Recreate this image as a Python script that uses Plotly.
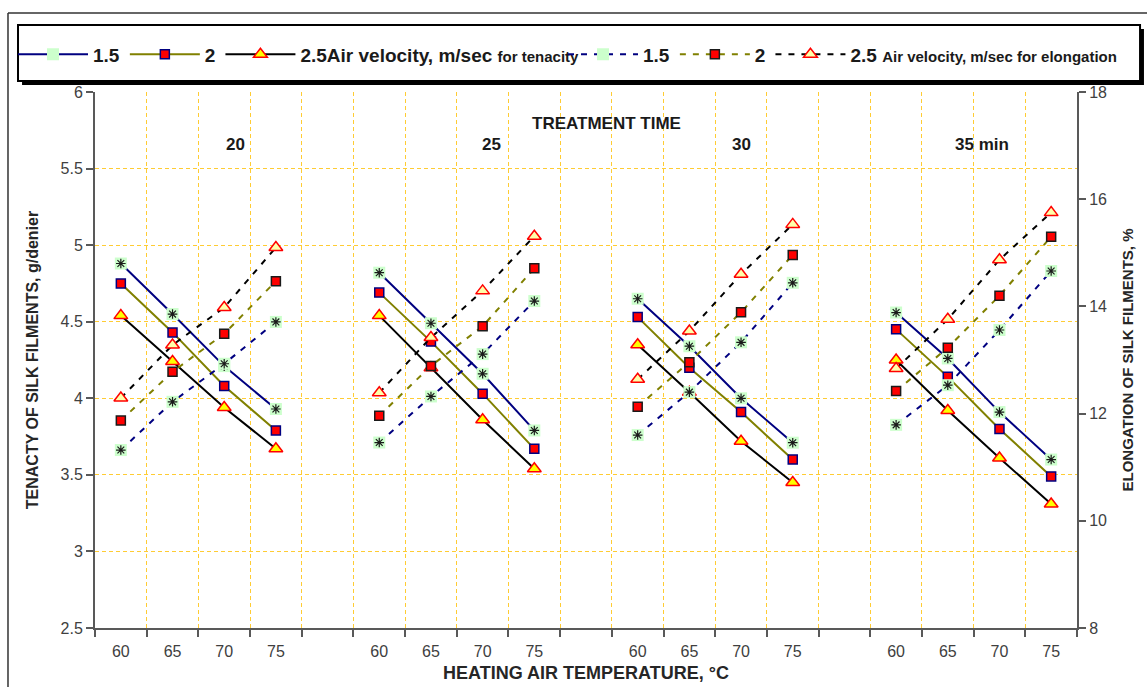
import plotly.graph_objects as go

# ---- data -------------------------------------------------------------
temps = ["60", "65", "70", "75"]                 # heating air temperature, °C
treatment_times = ["20", "25", "30", "35 min"]   # treatment time groups
velocities = ["1.5", "2", "2.5"]                 # air velocity, m/sec

# Tenacity, g/denier (4 temperatures per treatment time: 20 | 25 | 30 | 35 min)
tenacity_v15 = [4.88, 4.55, 4.21, 3.93,  4.82, 4.49, 4.16, 3.79,  4.65, 4.34, 4.00, 3.71,  4.56, 4.26, 3.91, 3.60]
tenacity_v20 = [4.75, 4.43, 4.08, 3.79,  4.69, 4.37, 4.03, 3.67,  4.53, 4.20, 3.91, 3.60,  4.45, 4.14, 3.80, 3.49]
tenacity_v25 = [4.54, 4.24, 3.94, 3.67,  4.54, 4.20, 3.86, 3.54,  4.35, 4.04, 3.72, 3.45,  4.25, 3.92, 3.61, 3.31]

# Elongation, %
elong_v15 = [11.32, 12.22, 12.93, 13.71,  11.46, 12.32, 13.11, 14.10,  11.60, 12.40, 13.33, 14.44,  11.79, 12.53, 13.56, 14.66]
elong_v20 = [11.87, 12.78, 13.49, 14.47,  11.96, 12.89, 13.63, 14.71,  12.13, 12.96, 13.89, 14.96,  12.42, 13.23, 14.20, 15.30]
elong_v25 = [12.29, 13.28, 13.98, 15.10,  12.39, 13.42, 14.29, 15.31,  12.64, 13.54, 14.60, 15.53,  12.84, 13.76, 14.87, 15.75]

# ---- category layout: 4 temperatures per group, one empty slot between groups
labels = []
for g in range(len(treatment_times)):
    labels += temps
    if g < len(treatment_times) - 1:
        labels.append("")
x_pos = list(range(len(labels)))


def spread(vals):
    it = iter(vals)
    return [next(it) if lab else None for lab in labels]


FONT = "Liberation Sans"
GRID = "#FFCC33"
AXIS = "#595959"

line_colors = {"1.5": "#000080", "2": "#808000", "2.5": "#000000"}

fig = go.Figure()


def add_series(vals, vel, name, yaxis, dashed, legend):
    y = spread(vals)
    line = dict(color=line_colors[vel], width=2)
    if dashed:
        line["dash"] = "6px,7px"
    if vel == "1.5":
        marker = dict(symbol="square", size=12, color="#CCFFCC", line=dict(width=0))
    elif vel == "2":
        marker = dict(symbol="square", size=9, color="#FF0000",
                      line=dict(color="#1a1a1a" if dashed else "#000080", width=1.5))
    else:
        marker = dict(symbol="triangle-up", size=12,
                      color="#FFFFAA" if dashed else "#FFFF00",
                      line=dict(color="#FF0000", width=1.5))
    fig.add_trace(go.Scatter(x=x_pos, y=y, mode="lines+markers", name=name,
                             line=line, marker=marker, yaxis=yaxis, legend=legend,
                             connectgaps=False, hoverinfo="y"))
    if vel == "1.5":
        # asterisk drawn over the pale green square
        fig.add_trace(go.Scatter(x=x_pos, y=y, mode="markers", showlegend=False,
                                 marker=dict(symbol="asterisk-open", size=8, color="#1a1a1a",
                                             line=dict(color="#1a1a1a", width=1.2)),
                                 yaxis=yaxis, hoverinfo="skip"))


small = "<span style='font-size:15px'>%s</span>"
add_series(tenacity_v15, "1.5", "1.5", "y", False, "legend")
add_series(tenacity_v20, "2", "2", "y", False, "legend")
add_series(tenacity_v25, "2.5", "2.5Air velocity, m/sec " + small % "for tenacity", "y", False, "legend")
add_series(elong_v15, "1.5", "1.5", "y2", True, "legend2")
add_series(elong_v20, "2", "2", "y2", True, "legend2")
add_series(elong_v25, "2.5", "2.5 " + small % "Air velocity, m/sec for elongation", "y2", True, "legend2")

# ---- annotations: treatment time headings
group_label_x = [2.22, 7.18, 12.0, 16.66]
annotations = [dict(x=gx, y=5.655, xref="x", yref="y", text=f"<b>{t}</b>", showarrow=False,
                    font=dict(family=FONT, size=17, color="#1a1a1a"))
               for gx, t in zip(group_label_x, treatment_times)]
annotations.append(dict(x=9.40, y=5.796, xref="x", yref="y", text="<b>TREATMENT TIME</b>",
                        showarrow=False, font=dict(family=FONT, size=17, color="#1a1a1a")))

# ---- legend frame (with drop shadow) and chart-area border
shapes = [
    dict(type="rect", xref="paper", yref="paper", x0=-0.0743, x1=1.0682, y0=1.0131, y1=1.1175,
         fillcolor="#000000", line=dict(width=0), layer="below"),
    dict(type="rect", xref="paper", yref="paper", x0=-0.0784, x1=1.0642, y0=1.0205, y1=1.125,
         fillcolor="#FFFFFF", line=dict(color="#000000", width=2), layer="below"),
    dict(type="line", xref="paper", yref="paper", x0=-0.0886, x1=1.08, y0=1.1474, y1=1.1474,
         line=dict(color="#333333", width=1.5), layer="below"),
    dict(type="line", xref="paper", yref="paper", x0=-0.0886, x1=-0.0886, y0=1.1474, y1=-0.12,
         line=dict(color="#333333", width=1.5), layer="below"),
]

legend_style = dict(orientation="h", yanchor="middle", y=1.07, xanchor="left",
                    bgcolor="rgba(0,0,0,0)", borderwidth=0, itemwidth=70,
                    font=dict(family=FONT, size=19, color="#1a1a1a", weight="bold"),
                    traceorder="normal")

fig.update_layout(
    width=1147, height=687,
    margin=dict(l=95, r=70, t=92, b=59, autoexpand=False),
    paper_bgcolor="white", plot_bgcolor="white",
    showlegend=True,
    legend=dict(x=-0.0835, **legend_style),
    legend2=dict(x=0.4766, **legend_style),
    xaxis=dict(range=[-0.5, len(labels) - 0.5], tickmode="array", tickvals=x_pos, ticktext=labels,
               ticks="", showgrid=False, zeroline=False, showline=True, linecolor=AXIS, linewidth=2,
               ticklabelstandoff=8,
               tickfont=dict(family=FONT, size=16, color="#404040"),
               minor=dict(tickmode="array", tickvals=[i - 0.5 for i in range(len(labels) + 1)],
                          ticks="outside", ticklen=7, tickwidth=1.5, tickcolor=AXIS,
                          showgrid=True, gridcolor=GRID, gridwidth=1.3, griddash="4px,3px"),
               title=dict(text="<b>HEATING AIR TEMPERATURE, °C</b>", standoff=7,
                          font=dict(family=FONT, size=18, color="#262626"))),
    yaxis=dict(range=[2.5, 6], tick0=2.5, dtick=0.5, ticks="outside", ticklen=7, tickwidth=1.5,
               tickcolor=AXIS, showline=True, linecolor=AXIS, linewidth=2, zeroline=False,
               showgrid=True, gridcolor=GRID, gridwidth=1.3, griddash="4px,3px",
               tickfont=dict(family=FONT, size=16, color="#404040"),
               title=dict(text="<b>TENACTY OF SILK FILMENTS, g/denier</b>", standoff=18,
                          font=dict(family=FONT, size=16, color="#262626"))),
    yaxis2=dict(range=[8, 18], tick0=8, dtick=2, overlaying="y", side="right", ticks="outside",
                ticklen=7, tickwidth=1.5, tickcolor=AXIS, showline=True, linecolor=AXIS,
                linewidth=2, zeroline=False, showgrid=False,
                tickfont=dict(family=FONT, size=16, color="#404040"),
                title=dict(text="<b>ELONGATION OF SILK FILMENTS, %</b>", standoff=16,
                           font=dict(family=FONT, size=15, color="#262626"))),
    annotations=annotations,
    shapes=shapes,
)

fig.write_html("out.html")
